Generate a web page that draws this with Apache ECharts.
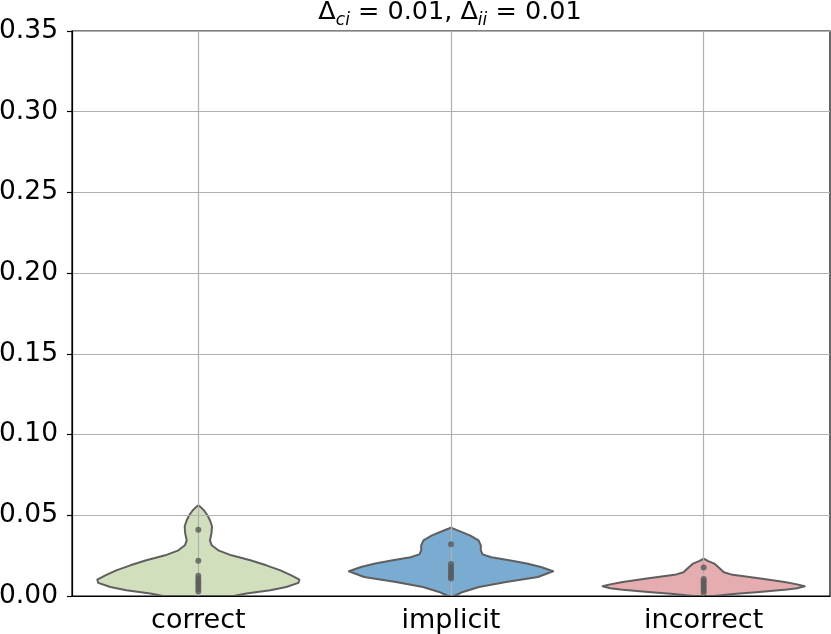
<!DOCTYPE html>
<html>
<head>
<meta charset="utf-8">
<script src="https://cdn.jsdelivr.net/npm/echarts@6/dist/echarts.min.js"></script>
<style>html,body{margin:0;padding:0;background:#fff}#c{width:831px;height:634px}</style>
</head>
<body>
<div id="c"></div>
<script>
// Categories and tick labels
var categories = ['correct', 'implicit', 'incorrect'];
var yTicks = [0, 0.05, 0.10, 0.15, 0.20, 0.25, 0.30, 0.35];

// Observed points (inner="point")
var pointsCorrect   = [0.0411, 0.0219, 0.0125, 0.0108, 0.0092, 0.0077, 0.0060, 0.0043, 0.0028];
var pointsImplicit  = [0.0320, 0.0198, 0.0180, 0.0165, 0.0150, 0.0135, 0.0120, 0.0108];
var pointsIncorrect = [0.0176, 0.0105, 0.0092, 0.0078, 0.0064, 0.0050, 0.0036, 0.0022];

// Violin outlines: value levels and half-widths (in category units)
var violinCorrectLevels  = [0.0562, 0.0546, 0.0531, 0.0500, 0.0469, 0.0432, 0.0388, 0.0345, 0.0314, 0.0283, 0.0252, 0.0221, 0.0190, 0.0159, 0.0128, 0.0102, 0.0081, 0.0056, 0.0035, 0.0015, 0];
var violinCorrectWidths  = [0,      0.012,  0.022,  0.036,  0.046,  0.054,  0.052,  0.046,  0.053,  0.079,  0.131,  0.206,  0.269,  0.325,  0.368,  0.400,  0.396,  0.348,  0.285,  0.190,  0.140];
var violinImplicitLevels = [0.0424, 0.0407, 0.0376, 0.0345, 0.0314, 0.0283, 0.0258, 0.0240, 0.0221, 0.0201, 0.0180, 0.0153, 0.0118, 0.0087, 0.0056, 0.0025, 0];
var violinImplicitWidths = [0,      0.026,  0.075,  0.109,  0.118,  0.118,  0.125,  0.160,  0.230,  0.300,  0.356,  0.404,  0.344,  0.218,  0.111,  0.047,  0.012];
var violinIncorrectLevels = [0.0232, 0.0218, 0.0201, 0.0170, 0.0147, 0.0131, 0.0108, 0.0087, 0.0072, 0.0060, 0.0048, 0.0040, 0.0025, 0.0014, 0];
var violinIncorrectWidths = [0,      0.016,  0.042,  0.064,  0.080,  0.115,  0.225,  0.320,  0.370,  0.400,  0.370,  0.330,  0.220,  0.130,  0.040];

var fillColors = ['#d2dfbc', '#7aabd0', '#e5adb0'];
var edgeColor = '#5f5f5f';

var violins = [
  {levels: violinCorrectLevels, widths: violinCorrectWidths},
  {levels: violinImplicitLevels, widths: violinImplicitWidths},
  {levels: violinIncorrectLevels, widths: violinIncorrectWidths}
];
var pointSets = [pointsCorrect, pointsImplicit, pointsIncorrect];

var scatterData = [];
pointSets.forEach(function (arr, i) { arr.forEach(function (v) { scatterData.push([i, v]); }); });

var FONT = 'DejaVu Sans';
var chart = echarts.init(document.getElementById('c'), null, {renderer: 'canvas'});
chart.setOption({
  animation: false,
  backgroundColor: '#ffffff',
  title: {
    text: '{n|Δ}{s|ci}{n| = 0.01, Δ}{s|ii}{n| = 0.01}',
    left: 450, top: -1, padding: 0, textAlign: 'center',
    textStyle: {
      fontWeight: 'normal',
      rich: {
        n: {fontFamily: FONT, fontSize: 25.5, fontWeight: 'normal', lineHeight: 27, color: '#000', verticalAlign: 'top'},
        s: {fontFamily: FONT, fontSize: 17, fontWeight: 'normal', lineHeight: 17, fontStyle: 'italic', color: '#000', verticalAlign: 'top', padding: [13, 0, 0, 0]}
      }
    }
  },
  grid: {left: 72, right: 1, top: 31, bottom: 38, show: true, borderColor: '#000', borderWidth: 1.2,
         backgroundColor: 'transparent', outerBoundsMode: 'none', containLabel: false},
  xAxis: {
    type: 'category', data: categories, boundaryGap: true, z: 3,
    axisLine: {lineStyle: {color: '#000', width: 1.2}},
    axisTick: {alignWithLabel: true, length: 5, lineStyle: {color: '#000', width: 1.2}},
    axisLabel: {fontFamily: FONT, fontSize: 27, color: '#000', margin: 11},
    splitLine: {show: true, alignWithLabel: true, lineStyle: {color: '#b0b0b0', width: 1.2}}
  },
  yAxis: {
    type: 'value', min: 0, max: 0.35, interval: 0.05, z: 3,
    axisLine: {show: true, lineStyle: {color: '#000', width: 1.2}},
    axisTick: {show: true, length: 5, lineStyle: {color: '#000', width: 1.2}},
    axisLabel: {fontFamily: FONT, fontSize: 26.5, color: '#000', margin: 14,
      formatter: function (v) { return v.toFixed(2); }},
    splitLine: {show: true, lineStyle: {color: '#b0b0b0', width: 1.2}}
  },
  series: [
    {
      type: 'custom', z: 2,
      data: categories.map(function (c, i) { return [i, 0]; }),
      encode: {x: 0, y: 1},
      renderItem: function (params, api) {
        var i = params.dataIndex;
        var vi = violins[i];
        var bw = api.size([1, 0])[0];
        var right = [], left = [];
        for (var k = 0; k < vi.levels.length; k++) {
          var p = api.coord([i, vi.levels[k]]);
          right.push([p[0] + vi.widths[k] * bw, p[1]]);
          left.push([p[0] - vi.widths[k] * bw, p[1]]);
        }
        var pts = right.concat(left.reverse());
        return {
          type: 'polygon',
          shape: {points: pts},
          style: {fill: fillColors[i], stroke: edgeColor, lineWidth: 2, lineJoin: 'round'}
        };
      }
    },
    {
      type: 'scatter', z: 5,
      data: scatterData,
      symbol: 'circle', symbolSize: 6,
      itemStyle: {color: '#5a5a5a'}
    }
  ]
});
</script>
</body>
</html>
